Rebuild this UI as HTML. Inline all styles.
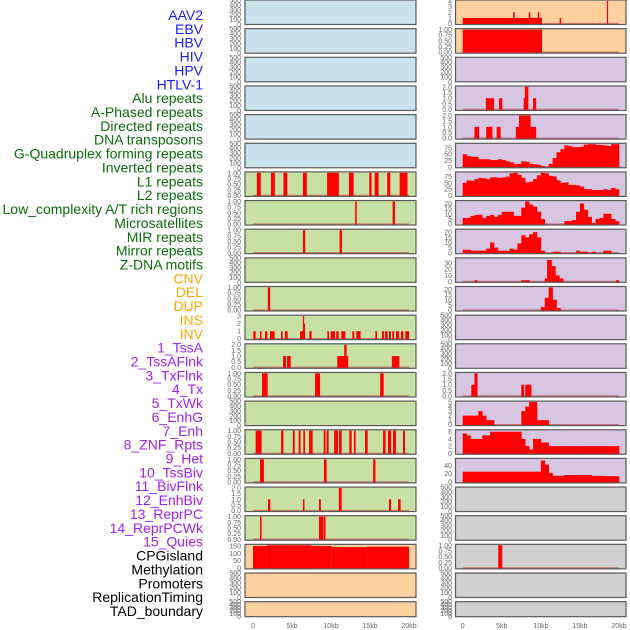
<!DOCTYPE html>
<html><head><meta charset="utf-8"><style>
html,body{margin:0;padding:0;background:#fff;}
svg{display:block;font-family:"Liberation Sans",sans-serif;}
</style></head><body>
<svg id="chart" width="630" height="630" viewBox="0 0 630 630" xmlns="http://www.w3.org/2000/svg">
<g id="labels" font-size="14" text-anchor="end"></g>
<g id="panels"></g>
<g id="xaxes" font-size="7" fill="#666" text-anchor="middle"></g>
</svg>
<script>
const labelNames = ["AAV2","EBV","HBV","HIV","HPV","HTLV-1","Alu repeats","A-Phased repeats","Directed repeats","DNA transposons","G-Quadruplex forming repeats","Inverted repeats","L1 repeats","L2 repeats","Low_complexity A/T rich regions","Microsatellites","MIR repeats","Mirror repeats","Z-DNA motifs","CNV","DEL","DUP","INS","INV","1_TssA","2_TssAFlnk","3_TxFlnk","4_Tx","5_TxWk","6_EnhG","7_Enh","8_ZNF_Rpts","9_Het","10_TssBiv","11_BivFlnk","12_EnhBiv","13_ReprPC","14_ReprPCWk","15_Quies","CPGisland","Methylation","Promoters","ReplicationTiming","TAD_boundary"];
const labelGroups = ["v","v","v","v","v","v","r","r","r","r","r","r","r","r","r","r","r","r","r","s","s","s","s","s","c","c","c","c","c","c","c","c","c","c","c","c","c","c","c","o","o","o","o","o"];
const groupColors = {v:"#1a1aff",r:"#0b6b0b",s:"#ffa500",c:"#a020f0",o:"#000000"};

// x tick labels (kb)
const xTickVals = [0,5,10,15,20];
const xTickLabels = ["0","5kb","10kb","15kb","20kb"];

// left column: intervals [startKb,endKb,value]
const leftIntervals = [
 [],[],[],[],[],[],
 [[0.5,1.0,1],[2.3,2.8,1],[3.9,4.4,1],[6.4,6.9,1],[9.5,11.0,1],[12.3,12.9,1],[14.9,15.2,1],[15.6,16.1,1],[17.2,17.6,1],[18.8,19.8,1]],
 [[13.1,13.3,1],[17.9,18.2,1]],
 [[6.4,6.7,1],[11.1,11.4,1]],
 [],
 [[1.9,2.2,1]],
 [[0.04,0.34,1],[0.9,1.1,1],[1.54,1.84,1],[2.18,2.78,1],[3.59,3.8,1],[4.1,4.44,1],[6.03,6.54,1],[6.4,6.5,3],[6.5,6.67,2],[7.22,7.52,1],[9.53,9.74,1],[9.96,10.51,1],[10.68,10.98,1],[11.32,11.84,1],[12.74,12.99,1],[13.25,13.8,1],[15.68,15.9,1],[16.54,16.8,1],[16.92,17.26,1],[17.44,17.69,1],[17.86,18.08,1],[18.33,18.72,1],[18.97,19.27,1],[19.53,20.0,1]],
 [[3.85,4.23,1],[4.36,4.83,1],[10.8,12.2,1],[11.7,12.0,2],[17.8,18.76,1]],
 [[1.15,1.88,1],[7.95,8.6,1],[16.3,16.75,1]],
 [],
 [[0.34,1.1,1],[3.6,3.9,1],[5.1,5.35,1],[5.85,6.1,1],[6.45,6.67,1],[7.18,7.65,1],[9.06,9.3,1],[9.44,9.7,1],[10.4,10.9,1],[11.03,11.37,1],[12.35,12.65,1],[12.95,13.16,1],[14.36,14.7,1],[16.67,17.0,1],[17.3,17.7,1],[17.95,18.33,1],[19.23,19.49,1]],
 [[0.9,1.4,1],[9.1,9.44,1],[15.4,15.7,1]],
 [[1.92,2.22,1],[6.4,6.6,1],[8.46,8.7,1],[11.0,11.37,2],[17.44,17.7,1],[18.6,18.93,1]],
 [[0.9,1.1,1],[8.46,9.0,1],[9.06,9.3,1]],
 [[0,1.75,150],[1.75,7.5,155],[7.5,10.1,150],[10.1,14.6,142],[14.6,20,145]],
 [],[]
];
const leftMax = [0,0,0,0,0,0,1,1,1,0,1,3,2,1,0,1,1,2,1,155,0,0];
const leftTicks = [null,null,null,null,null,null,
 ["1.00","0.75","0.50","0.25","0.00"],["1.00","0.75","0.50","0.25","0.00"],["1.00","0.75","0.50","0.25","0.00"],null,["1.00","0.75","0.50","0.25","0.00"],
 ["3","2","1","0"],["2.0","1.5","1.0","0.5","0.0"],["1.00","0.75","0.50","0.25","0.00"],null,["1.00","0.75","0.50","0.25","0.00"],["1.00","0.75","0.50","0.25","0.00"],["2.0","1.5","1.0","0.5","0.0"],["1.00","0.75","0.50","0.25","0.00"],["150","100","50","0"],null,null];

// right column: sparse intervals or 40-bin (0.5kb) histograms
const rightIntervals = {
 0:[[0,10.15,1],[6.45,6.65,2],[8.45,8.65,2],[9.6,9.8,2],[12.4,12.6,1],[18.45,18.6,4]],
 1:[[0,10.15,1]],
 3:[[2.96,4.0,1],[4.65,5.07,1],[7.8,8.25,1],[7.95,8.4,2],[9.0,9.4,1]],
 4:[[1.5,2.1,1],[3.0,3.8,1],[4.35,4.85,1],[6.8,7.2,1],[7.2,8.7,2],[8.7,9.4,1]],
 9:[[1.5,1.9,2],[7.5,8.6,2],[10.5,10.8,5],[10.8,11.4,35],[11.4,11.9,25],[11.9,12.4,10],[12.4,12.9,5],[19.6,20,2]],
 13:[[1.1,1.5,1],[1.5,1.9,2],[7.5,7.85,1],[8.0,8.8,1]],
 19:[[4.55,5.06,1]]
};
const gquadBins = [50,43,40,40,30,30,30,27,27,30,27,22,18,10,12,22,20,12,10,8,3,0,12,35,58,70,85,82,78,78,80,88,90,90,87,87,85,83,90,90];
const l1Bins = [50,60,58,65,70,68,65,72,72,70,72,75,88,90,82,70,52,55,65,80,90,88,78,75,60,50,52,42,42,40,35,25,25,22,22,22,25,22,30,25];
const lowCompBins = [6,6,8,9,9,6,8,9,7,9,12,12,12,8,8,16,22,19,17,12,5,0,0,0,0,0,3,3,4,12,20,14,7,1,5,6,10,10,5,3];
const microsatBins = [3,3,2,2,2,2,4,10,5,2,2,2,4,3,9,17,15,18,20,15,2,0,0,1,1,0,0,0,0,2,1,1,0,1,0,0,2,2,0,0];
const mirrorBins = [0,0,0,0,0,0,0,0,0,0,0,0,0,0,0,0,0,0,0,0,3,12,22,10,2,0,0,0,0,0,0,0,0,0,0,0,0,0,0,0];
const txWkBins = [2,2,2,2,3,2,1,1,0,0,0,0,0,0,0,3,4,5,5,1,1,1,0,0,0,0,0,0,0,0,0,0,0,0,0,0,0,0,0,0];
const enhBins = [5.5,5,4,4,4,5,5,6,6,6,6,6,6,6,6,4,2,1,4,4,3,3,2,2,2,2,2,2,2,2,2,2,2,2,2,2,2,2,2,2];
const tssBivBins = [25,25,25,25,25,25,25,25,25,25,25,25,25,25,25,25,25,25,25,25,52,42,22,15,15,15,17,17,17,17,17,17,17,15,15,15,14,14,14,14];
const rightBins = {5:gquadBins,6:l1Bins,7:lowCompBins,8:microsatBins,10:mirrorBins,14:txWkBins,15:enhBins,16:tssBivBins};
const rightMax = [4,1,0,2,2,90,90,22,22,37,22,0,0,2,5,6.3,55,0,0,1,0,0];
const rightTicks = [["4","3","2","1","0"],["1.00","0.75","0.50","0.25","0.00"],null,["2.0","1.5","1.0","0.5","0.0"],["2.0","1.5","1.0","0.5","0.0"],
 ["75","50","25","0"],["75","50","25","0"],["20","15","10","5","0"],["20","15","10","5","0"],["30","20","10","0"],["20","15","10","5","0"],
 null,null,["2.0","1.5","1.0","0.5","0.0"],["5","4","3","2","1","0"],["6","4","2","0"],["40","20","0"],null,null,["1.00","0.75","0.50","0.25","0.00"],null,null];

const leftFace = i => i<6 ? "#c8e3ec" : (i<19 ? "#c9e0a5" : "#fdd09f");
const rightFace = i => i<2 ? "#fdd09f" : (i<17 ? "#d6c6e2" : "#d0d0d0");

const NS = "http://www.w3.org/2000/svg";
function mk(tag, attrs, parent){const e=document.createElementNS(NS,tag);for(const k in attrs)e.setAttribute(k,attrs[k]);parent.appendChild(e);return e;}

// labels
const lg = document.getElementById('labels');
labelNames.forEach((n,k)=>{
  const t = mk('text',{x:203,y:(15+13.86*k+5).toFixed(1),fill:groupColors[labelGroups[k]]},lg);
  
  
  t.textContent = n;
});

const cols = [
  {x0:245,x1:416,k0:253,k1:409,tickX:241,face:leftFace,max:leftMax,ticks:leftTicks,name:'left'},
  {x0:455.5,x1:626,k0:462.7,k1:619,tickX:452,face:rightFace,max:rightMax,ticks:rightTicks,name:'right'}
];
const pg = document.getElementById('panels');
for(let c=0;c<2;c++){
  const col = cols[c];
  const xs = kb => col.k0 + (col.k1-col.k0)*kb/20;
  for(let i=0;i<22;i++){
    const top = i<21 ? i*28.65 : 601.7;
    const h = i<21 ? 24.5 : 15;
    const g = mk('g',{},pg);
    
    
    const bg = mk('rect',{x:col.x0,y:top,width:col.x1-col.x0,height:h,fill:col.face(i),stroke:'none'},g);
    
    
    const m = col.max[i];
    const empty = !m;
    const lo = empty ? 0 : -0.04*m, hi = empty ? 500 : 1.04*m;
    const ys = v => top + h - (v-lo)/(hi-lo)*h;
    // ticks
    let tl = col.ticks[i];
    let vals;
    if(empty){ tl = ["500","400","300","200","100","0"]; vals=[500,400,300,200,100,0]; }
    else vals = tl.map(Number);
    tl.forEach((s,j)=>{
      const t = mk('text',{x:col.tickX,y:(ys(vals[j])+2.5).toFixed(1),'font-size':7,fill:'#666','text-anchor':'end'},g);
      
      
      t.textContent = s;
    });
    if(!empty){
      const bl = mk('line',{x1:xs(0),x2:xs(20),y1:ys(0),y2:ys(0),stroke:'rgba(190,60,60,0.6)','stroke-width':1.5},g);
      
      
      let ivs = [];
      if(c===0) ivs = leftIntervals[i];
      else if(rightIntervals[i]) ivs = rightIntervals[i];
      ivs.forEach(iv=>{
        const r = mk('rect',{x:xs(iv[0]).toFixed(2),y:ys(iv[2]).toFixed(2),width:Math.max(1.2,xs(iv[1])-xs(iv[0])).toFixed(2),height:(ys(0)-ys(iv[2])+0.5).toFixed(2),fill:'#ff0000'},g);
        
        
      });
      if(c===1 && rightBins[i]){
        rightBins[i].forEach((v,b)=>{
          if(!v) return;
          const r = mk('rect',{x:xs(b*0.5).toFixed(2),y:ys(v).toFixed(2),width:(xs(b*0.5+0.5)-xs(b*0.5)+0.3).toFixed(2),height:(ys(0)-ys(v)+0.5).toFixed(2),fill:'#ff0000'},g);
          
          
        });
      }
    }
    const br = mk('rect',{x:col.x0,y:top,width:col.x1-col.x0,height:h,fill:'none',stroke:'#5a5a5a','stroke-width':1.2},g);
    
    
  }
  const xg = document.getElementById('xaxes');
  xTickVals.forEach((v,j)=>{
    const t = mk('text',{x:xs(v).toFixed(1),y:628},xg);
    
    
    t.textContent = xTickLabels[j];
  });
}
</script>
</body></html>
